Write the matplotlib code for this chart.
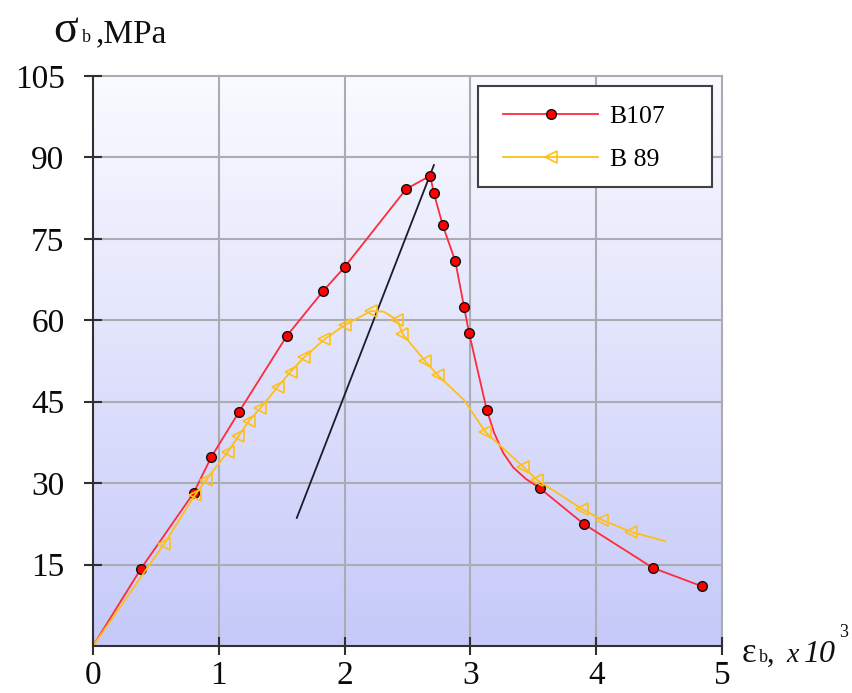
import numpy as np
import matplotlib
matplotlib.use("Agg")
import matplotlib.pyplot as plt
from matplotlib.colors import LinearSegmentedColormap
from matplotlib.patches import Rectangle

# ---- data ----
b107_x = [0, 0.38, 0.80, 0.94, 1.16, 1.54, 1.83, 2.00, 2.49, 2.68, 2.71, 2.78, 2.88,
          2.95, 2.99, 3.13, 3.19, 3.26, 3.34, 3.44, 3.55, 3.90, 4.45, 4.84]
b107_y = [0, 14.2, 28.2, 34.8, 43.1, 57.1, 65.4, 69.8, 84.2, 86.6, 83.4, 77.5, 70.9,
          62.4, 57.6, 43.5, 39.2, 35.6, 32.9, 30.8, 29.1, 22.5, 14.4, 11.0]
b107_marked = [1, 2, 3, 4, 5, 6, 7, 8, 9, 10, 11, 12, 13, 14, 15, 20, 21, 22, 23]

b89_x = [0, 0.565, 0.81, 0.90, 1.07, 1.155, 1.24, 1.33, 1.47, 1.57, 1.68, 1.84, 2.00,
         2.21, 2.31, 2.42, 2.46, 2.64, 2.74, 2.95, 3.12, 3.42, 3.53, 3.89, 4.05, 4.28, 4.55]
b89_y = [0, 18.8, 27.8, 30.6, 35.7, 38.6, 41.5, 43.8, 47.8, 50.5, 53.2, 56.5, 59.1,
         61.7, 61.6, 60.0, 57.5, 52.5, 49.9, 45.3, 39.4, 33.0, 30.6, 25.2, 23.2, 21.0, 19.3]
b89_marked = [1, 2, 3, 4, 5, 6, 7, 8, 9, 10, 11, 12, 13, 15, 16, 17, 18, 20, 21, 22, 23, 24, 25]

tangent_x = [1.62, 2.71]
tangent_y = [23.6, 88.6]

x_ticks = [0, 1, 2, 3, 4, 5]
y_ticks = [15, 30, 45, 60, 75, 90, 105]
y_tick_labels = ["15", "30", "45", "60", "75", "90", "105"]
series_labels = ["B107", "B 89"]

SERIF = "Liberation Serif"
W, H = 852, 693
fig = plt.figure(figsize=(W / 100, H / 100), dpi=100)
fig.patch.set_facecolor("white")

L, R, T, B = 93, 722, 76, 646
ax = fig.add_axes([L / W, 1 - B / H, (R - L) / W, (B - T) / H])
ax.set_xlim(0, 5)
ax.set_ylim(0, 105)

# gradient background
cmap = LinearSegmentedColormap.from_list("bg", [(0.775, 0.79, 0.975), (0.98, 0.983, 1.0)])
grad = np.linspace(0, 1, 256).reshape(-1, 1)
ax.imshow(grad, extent=[0, 5, 0, 105], origin="lower", aspect="auto", cmap=cmap,
          zorder=0, interpolation="bicubic")

# grid
gcol = "#ababb2"
for xv in x_ticks[1:]:
    ax.axvline(xv, color=gcol, lw=1.5, zorder=1, clip_on=False)
for yv in y_ticks:
    ax.axhline(yv, color=gcol, lw=1.5, zorder=1, clip_on=False)

ax.spines["top"].set_visible(False)
ax.spines["right"].set_visible(False)
for s in ["left", "bottom"]:
    ax.spines[s].set_color("#303030")
    ax.spines[s].set_linewidth(1.5)
    ax.spines[s].set_zorder(5)

ax.set_xticks(x_ticks)
ax.set_yticks(y_ticks)
ax.set_yticklabels(y_tick_labels)
ax.tick_params(axis="both", direction="inout", length=13, width=1.5, color="#303030",
               labelsize=24, labelcolor="#0a0a0a")
ax.tick_params(axis="y", pad=14)
ax.tick_params(axis="x", pad=4)
for lab in ax.get_xticklabels() + ax.get_yticklabels():
    lab.set_fontfamily(SERIF)

red = "#ff2b3a"
yel = "#ffbf1a"

ax.plot(tangent_x, tangent_y, color="#1b1b2b", lw=1.3, zorder=3)

ax.plot(b107_x, b107_y, color=red, lw=1.3, zorder=4, marker="o", markersize=7,
        markerfacecolor="#ff0000", markeredgecolor="#101010", markeredgewidth=1.0,
        markevery=b107_marked, label=series_labels[0])
ax.plot(b89_x, b89_y, color=yel, lw=1.3, zorder=4, marker="<", markersize=8,
        markerfacecolor="none", markeredgecolor=yel, markeredgewidth=1.2,
        markevery=b89_marked, label=series_labels[1])

# legend frame (box drawn separately so padding can match)
ax.add_patch(Rectangle((478 / W, 1 - 187 / H), (712 - 478) / W, (187 - 86) / H,
                       transform=fig.transFigure, facecolor="white", clip_on=False,
                       edgecolor="#404040", lw=1.5, zorder=9))
leg = ax.legend(loc="upper left", bbox_to_anchor=(503 / W, 1 - 105 / H),
                bbox_transform=fig.transFigure, frameon=False,
                prop={"family": SERIF, "size": 18.5}, handlelength=3.7,
                borderpad=0, labelspacing=0.78, handletextpad=0.45, borderaxespad=0)
leg.set_zorder(10)

def ptxt(x, y, s, **kw):
    fig.text(x / W, 1 - y / H, s, color="#101010", va="baseline", ha="left",
             family=SERIF, **kw)

# y label: σb ,MPa
ptxt(53, 42, "σ", size=33)
ptxt(82, 42, "b", size=13)
ptxt(96, 42, ",MPa", size=24)

# x label: εb, x10^3
ptxt(742, 662, "ε", size=25)
ptxt(759, 662, "b", size=13)
ptxt(767, 662, ",", size=22)
ptxt(786, 662, "x", size=20, style="italic")
ptxt(804, 662, "10", size=23, style="italic")
ptxt(839, 637, "3", size=13)

fig.savefig("out.png", dpi=100)
